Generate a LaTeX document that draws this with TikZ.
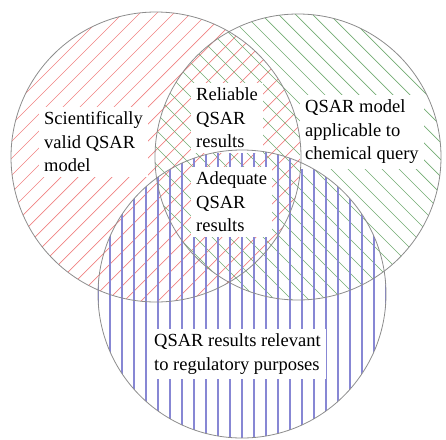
\documentclass[tikz,border=0pt]{standalone}
\usepackage{fontspec}
\setmainfont{Liberation Serif}
\usepackage{tikz}
\usetikzlibrary{positioning}

\definecolor{hatchred}{RGB}{240,130,130}
\definecolor{hatchgreen}{RGB}{115,172,115}
\definecolor{hatchblue}{RGB}{135,135,212}

\begin{document}
\begin{tikzpicture}[
            x = 1pt, y = -1pt, % pixel like units, y going down
            every text node part/.style={align=left}
        ]

        \tikzstyle{rim}=[draw = black!45, line width = 0.8pt]
        \tikzstyle{redhatch}=[hatchred, line width = 0.7pt]
        \tikzstyle{greenhatch}=[hatchgreen, line width = 0.7pt]
        \tikzstyle{bluehatch}=[hatchblue, line width = 1.4pt]
        \tikzstyle{label}=[
            fill = white,
            inner sep = 5pt,
            anchor = west,
            font = \fontsize{18.5}{23.5}\selectfont
        ]

        \useasboundingbox (0,0) rectangle (446,439);

        \coordinate (cR) at (156,157); % scientifically valid
        \coordinate (cG) at (298,157); % applicable
        \coordinate (cB) at (242,294); % relevant

        % hatching
        \begin{scope}
            \clip (cR) circle (145pt);
            \foreach \c in {0,17,...,900}
                \draw[redhatch] (\c,0) -- (\c-439,439);
        \end{scope}
        \begin{scope}
            \clip (cG) circle (143pt);
            \foreach \c in {-450,-433,...,450}
                \draw[greenhatch] (\c,0) -- (\c+439,439);
        \end{scope}
        \begin{scope}
            \clip (cB) circle (144pt);
            \foreach \c in {2,14,...,446}
                \draw[bluehatch] (\c,0) -- (\c,439);
        \end{scope}

        \node[label] (SV) at (39,142) {Scientifically\\valid QSAR\\model};
        \node[label] (RR) at (191,118) {Reliable\\QSAR\\results};
        \node[label] (AR) at (191,202) {Adequate\\QSAR\\results};
        \node[label] (AP) at (300,132) {QSAR model\\applicable to\\chemical query};
        \node[label] (RP) at (149,354) {QSAR results relevant\\to regulatory purposes};

        \draw[rim] (cR) circle (145pt);
        \draw[rim] (cG) circle (143pt);
        \draw[rim] (cB) circle (144pt);

    \end{tikzpicture}
\end{document}
